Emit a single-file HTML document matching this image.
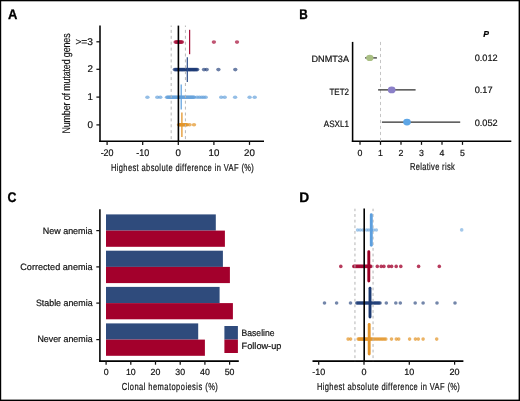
<!DOCTYPE html>
<html><head><meta charset="utf-8"><style>
html,body{margin:0;padding:0;background:#fff;}
svg{display:block;}
text{font-family:"Liberation Sans", sans-serif;text-rendering:geometricPrecision;}
</style></head><body>
<svg style="will-change:transform" width="520" height="401" viewBox="0 0 520 401">
<rect width="520" height="401" fill="#fff"/>
<text x="0" y="0" font-size="14" font-weight="bold" fill="#000" stroke="#000" stroke-width="0.3" transform="translate(8.0,18.6) scale(0.93,1)">A</text>
<line x1="100.00" y1="25.50" x2="100.00" y2="142.05" stroke="#000" stroke-width="1.55" />
<line x1="99.25" y1="141.30" x2="264.00" y2="141.30" stroke="#000" stroke-width="1.55" />
<line x1="107.10" y1="141.30" x2="107.10" y2="144.90" stroke="#111" stroke-width="1.25" />
<text x="107.10" y="156.20" font-size="9.7" text-anchor="middle" fill="#111" stroke="#111" stroke-width="0.2" textLength="12.9" lengthAdjust="spacingAndGlyphs" >-20</text>
<line x1="142.70" y1="141.30" x2="142.70" y2="144.90" stroke="#111" stroke-width="1.25" />
<text x="142.70" y="156.20" font-size="9.7" text-anchor="middle" fill="#111" stroke="#111" stroke-width="0.2" textLength="12.9" lengthAdjust="spacingAndGlyphs" >-10</text>
<line x1="178.30" y1="141.30" x2="178.30" y2="144.90" stroke="#111" stroke-width="1.25" />
<text x="178.30" y="156.20" font-size="9.7" text-anchor="middle" fill="#111" stroke="#111" stroke-width="0.2" >0</text>
<line x1="213.90" y1="141.30" x2="213.90" y2="144.90" stroke="#111" stroke-width="1.25" />
<text x="213.90" y="156.20" font-size="9.7" text-anchor="middle" fill="#111" stroke="#111" stroke-width="0.2" >10</text>
<line x1="249.50" y1="141.30" x2="249.50" y2="144.90" stroke="#111" stroke-width="1.25" />
<text x="249.50" y="156.20" font-size="9.7" text-anchor="middle" fill="#111" stroke="#111" stroke-width="0.2" >20</text>
<line x1="96.40" y1="41.80" x2="100.00" y2="41.80" stroke="#111" stroke-width="1.25" />
<text x="93.00" y="44.70" font-size="9.8" text-anchor="end" fill="#111" stroke="#111" stroke-width="0.2" textLength="17.6" lengthAdjust="spacingAndGlyphs" >&gt;=3</text>
<line x1="96.40" y1="69.30" x2="100.00" y2="69.30" stroke="#111" stroke-width="1.25" />
<text x="93.00" y="72.20" font-size="9.8" text-anchor="end" fill="#111" stroke="#111" stroke-width="0.2" >2</text>
<line x1="96.40" y1="97.10" x2="100.00" y2="97.10" stroke="#111" stroke-width="1.25" />
<text x="93.00" y="100.00" font-size="9.8" text-anchor="end" fill="#111" stroke="#111" stroke-width="0.2" >1</text>
<line x1="96.40" y1="124.90" x2="100.00" y2="124.90" stroke="#111" stroke-width="1.25" />
<text x="93.00" y="127.80" font-size="9.8" text-anchor="end" fill="#111" stroke="#111" stroke-width="0.2" >0</text>
<text x="0" y="0" font-size="10.2" fill="#111" stroke="#111" stroke-width="0.2" textLength="193.24" lengthAdjust="spacing" transform="translate(110.9,170.5) scale(0.74,1)">Highest absolute difference in VAF (%)</text>
<text x="0" y="0" font-size="11.2" fill="#111" stroke="#111" stroke-width="0.15" textLength="125.37" lengthAdjust="spacing" transform="translate(70.2,133.6) rotate(-90) scale(0.8,1)">Number of mutated genes</text>
<g fill="#a8123c" fill-opacity="0.72">
<ellipse cx="175.6" cy="42.10" rx="2.2" ry="1.8"/>
<ellipse cx="176.4" cy="42.10" rx="2.2" ry="1.8"/>
<ellipse cx="177.2" cy="42.10" rx="2.2" ry="1.8"/>
<ellipse cx="178.0" cy="42.10" rx="2.2" ry="1.8"/>
<ellipse cx="178.8" cy="42.10" rx="2.2" ry="1.8"/>
<ellipse cx="179.6" cy="42.10" rx="2.2" ry="1.8"/>
<ellipse cx="180.4" cy="42.10" rx="2.2" ry="1.8"/>
<ellipse cx="181.2" cy="42.10" rx="2.2" ry="1.8"/>
<ellipse cx="182.0" cy="42.10" rx="2.2" ry="1.8"/>
<ellipse cx="213.9" cy="42.10" rx="2.2" ry="1.8"/>
<ellipse cx="237.0" cy="42.10" rx="2.2" ry="1.8"/>
</g>
<g fill="#1d3b76" fill-opacity="0.65">
<ellipse cx="174.8" cy="69.60" rx="2.2" ry="1.8"/>
<ellipse cx="175.6" cy="69.60" rx="2.2" ry="1.8"/>
<ellipse cx="176.4" cy="69.60" rx="2.2" ry="1.8"/>
<ellipse cx="177.2" cy="69.60" rx="2.2" ry="1.8"/>
<ellipse cx="178.0" cy="69.60" rx="2.2" ry="1.8"/>
<ellipse cx="178.8" cy="69.60" rx="2.2" ry="1.8"/>
<ellipse cx="179.6" cy="69.60" rx="2.2" ry="1.8"/>
<ellipse cx="180.4" cy="69.60" rx="2.2" ry="1.8"/>
<ellipse cx="181.2" cy="69.60" rx="2.2" ry="1.8"/>
<ellipse cx="182.0" cy="69.60" rx="2.2" ry="1.8"/>
<ellipse cx="182.8" cy="69.60" rx="2.2" ry="1.8"/>
<ellipse cx="183.6" cy="69.60" rx="2.2" ry="1.8"/>
<ellipse cx="184.4" cy="69.60" rx="2.2" ry="1.8"/>
<ellipse cx="185.2" cy="69.60" rx="2.2" ry="1.8"/>
<ellipse cx="186.0" cy="69.60" rx="2.2" ry="1.8"/>
<ellipse cx="186.8" cy="69.60" rx="2.2" ry="1.8"/>
<ellipse cx="187.6" cy="69.60" rx="2.2" ry="1.8"/>
<ellipse cx="188.4" cy="69.60" rx="2.2" ry="1.8"/>
<ellipse cx="189.2" cy="69.60" rx="2.2" ry="1.8"/>
<ellipse cx="190.0" cy="69.60" rx="2.2" ry="1.8"/>
<ellipse cx="190.8" cy="69.60" rx="2.2" ry="1.8"/>
<ellipse cx="191.6" cy="69.60" rx="2.2" ry="1.8"/>
<ellipse cx="192.4" cy="69.60" rx="2.2" ry="1.8"/>
<ellipse cx="193.2" cy="69.60" rx="2.2" ry="1.8"/>
<ellipse cx="194.0" cy="69.60" rx="2.2" ry="1.8"/>
<ellipse cx="194.8" cy="69.60" rx="2.2" ry="1.8"/>
<ellipse cx="195.6" cy="69.60" rx="2.2" ry="1.8"/>
<ellipse cx="196.4" cy="69.60" rx="2.2" ry="1.8"/>
<ellipse cx="197.2" cy="69.60" rx="2.2" ry="1.8"/>
<ellipse cx="204.0" cy="69.60" rx="2.2" ry="1.8"/>
<ellipse cx="206.7" cy="69.60" rx="2.2" ry="1.8"/>
<ellipse cx="218.4" cy="69.60" rx="2.2" ry="1.8"/>
<ellipse cx="235.3" cy="69.60" rx="2.2" ry="1.8"/>
</g>
<g fill="#66a3dc" fill-opacity="0.7">
<ellipse cx="147.4" cy="97.20" rx="2.2" ry="1.8"/>
<ellipse cx="157.3" cy="97.20" rx="2.2" ry="1.8"/>
<ellipse cx="160.3" cy="97.20" rx="2.2" ry="1.8"/>
<ellipse cx="167.0" cy="97.20" rx="2.2" ry="1.8"/>
<ellipse cx="167.8" cy="97.20" rx="2.2" ry="1.8"/>
<ellipse cx="168.6" cy="97.20" rx="2.2" ry="1.8"/>
<ellipse cx="169.4" cy="97.20" rx="2.2" ry="1.8"/>
<ellipse cx="170.2" cy="97.20" rx="2.2" ry="1.8"/>
<ellipse cx="171.0" cy="97.20" rx="2.2" ry="1.8"/>
<ellipse cx="171.8" cy="97.20" rx="2.2" ry="1.8"/>
<ellipse cx="172.6" cy="97.20" rx="2.2" ry="1.8"/>
<ellipse cx="173.4" cy="97.20" rx="2.2" ry="1.8"/>
<ellipse cx="174.2" cy="97.20" rx="2.2" ry="1.8"/>
<ellipse cx="175.0" cy="97.20" rx="2.2" ry="1.8"/>
<ellipse cx="175.8" cy="97.20" rx="2.2" ry="1.8"/>
<ellipse cx="176.6" cy="97.20" rx="2.2" ry="1.8"/>
<ellipse cx="177.4" cy="97.20" rx="2.2" ry="1.8"/>
<ellipse cx="178.2" cy="97.20" rx="2.2" ry="1.8"/>
<ellipse cx="179.0" cy="97.20" rx="2.2" ry="1.8"/>
<ellipse cx="179.8" cy="97.20" rx="2.2" ry="1.8"/>
<ellipse cx="180.6" cy="97.20" rx="2.2" ry="1.8"/>
<ellipse cx="181.4" cy="97.20" rx="2.2" ry="1.8"/>
<ellipse cx="182.2" cy="97.20" rx="2.2" ry="1.8"/>
<ellipse cx="183.0" cy="97.20" rx="2.2" ry="1.8"/>
<ellipse cx="183.8" cy="97.20" rx="2.2" ry="1.8"/>
<ellipse cx="184.6" cy="97.20" rx="2.2" ry="1.8"/>
<ellipse cx="185.4" cy="97.20" rx="2.2" ry="1.8"/>
<ellipse cx="186.2" cy="97.20" rx="2.2" ry="1.8"/>
<ellipse cx="187.0" cy="97.20" rx="2.2" ry="1.8"/>
<ellipse cx="187.8" cy="97.20" rx="2.2" ry="1.8"/>
<ellipse cx="188.6" cy="97.20" rx="2.2" ry="1.8"/>
<ellipse cx="189.4" cy="97.20" rx="2.2" ry="1.8"/>
<ellipse cx="190.2" cy="97.20" rx="2.2" ry="1.8"/>
<ellipse cx="191.0" cy="97.20" rx="2.2" ry="1.8"/>
<ellipse cx="191.8" cy="97.20" rx="2.2" ry="1.8"/>
<ellipse cx="192.6" cy="97.20" rx="2.2" ry="1.8"/>
<ellipse cx="193.4" cy="97.20" rx="2.2" ry="1.8"/>
<ellipse cx="194.2" cy="97.20" rx="2.2" ry="1.8"/>
<ellipse cx="197.0" cy="97.20" rx="2.2" ry="1.8"/>
<ellipse cx="199.3" cy="97.20" rx="2.2" ry="1.8"/>
<ellipse cx="201.6" cy="97.20" rx="2.2" ry="1.8"/>
<ellipse cx="203.6" cy="97.20" rx="2.2" ry="1.8"/>
<ellipse cx="205.7" cy="97.20" rx="2.2" ry="1.8"/>
<ellipse cx="221.2" cy="97.20" rx="2.2" ry="1.8"/>
<ellipse cx="224.7" cy="97.20" rx="2.2" ry="1.8"/>
<ellipse cx="235.1" cy="97.20" rx="2.2" ry="1.8"/>
<ellipse cx="249.6" cy="97.20" rx="2.2" ry="1.8"/>
<ellipse cx="254.7" cy="97.20" rx="2.2" ry="1.8"/>
</g>
<g fill="#e3952a" fill-opacity="0.72">
<ellipse cx="179.0" cy="124.80" rx="2.2" ry="1.8"/>
<ellipse cx="179.8" cy="124.80" rx="2.2" ry="1.8"/>
<ellipse cx="180.6" cy="124.80" rx="2.2" ry="1.8"/>
<ellipse cx="181.4" cy="124.80" rx="2.2" ry="1.8"/>
<ellipse cx="182.2" cy="124.80" rx="2.2" ry="1.8"/>
<ellipse cx="183.0" cy="124.80" rx="2.2" ry="1.8"/>
<ellipse cx="183.8" cy="124.80" rx="2.2" ry="1.8"/>
<ellipse cx="184.6" cy="124.80" rx="2.2" ry="1.8"/>
<ellipse cx="185.4" cy="124.80" rx="2.2" ry="1.8"/>
<ellipse cx="186.2" cy="124.80" rx="2.2" ry="1.8"/>
<ellipse cx="187.0" cy="124.80" rx="2.2" ry="1.8"/>
<ellipse cx="189.6" cy="124.80" rx="2.2" ry="1.8"/>
<ellipse cx="194.0" cy="124.80" rx="2.2" ry="1.8"/>
</g>
<line x1="171.18" y1="25.50" x2="171.18" y2="141.30" stroke="#b8b8b8" stroke-width="1.0" stroke-dasharray="3 2.9" stroke-dashoffset="1.5"/>
<line x1="185.42" y1="25.50" x2="185.42" y2="141.30" stroke="#b8b8b8" stroke-width="1.0" stroke-dasharray="3 2.9" stroke-dashoffset="1.5"/>
<line x1="178.40" y1="25.60" x2="178.40" y2="141.30" stroke="#000" stroke-width="1.6" />
<line x1="189.60" y1="29.80" x2="189.60" y2="54.20" stroke="#a30f38" stroke-width="1.25" />
<line x1="187.30" y1="57.30" x2="187.30" y2="82.00" stroke="#2a4a86" stroke-width="1.2" />
<line x1="181.20" y1="84.60" x2="181.20" y2="109.40" stroke="#5a9ede" stroke-width="1.2" />
<line x1="181.90" y1="112.60" x2="181.90" y2="137.00" stroke="#e3952a" stroke-width="1.3" />
<text x="0" y="0" font-size="14" font-weight="bold" fill="#000" stroke="#000" stroke-width="0.3" transform="translate(299.2,18.7) scale(0.84,1)">B</text>
<line x1="352.60" y1="41.90" x2="352.60" y2="142.00" stroke="#000" stroke-width="1.55" />
<line x1="351.85" y1="141.25" x2="511.30" y2="141.25" stroke="#000" stroke-width="1.55" />
<line x1="360.00" y1="141.25" x2="360.00" y2="144.85" stroke="#111" stroke-width="1.25" />
<text x="360.00" y="156.10" font-size="8.8" text-anchor="middle" fill="#111" stroke="#111" stroke-width="0.2" >0</text>
<line x1="380.50" y1="141.25" x2="380.50" y2="144.85" stroke="#111" stroke-width="1.25" />
<text x="380.50" y="156.10" font-size="8.8" text-anchor="middle" fill="#111" stroke="#111" stroke-width="0.2" >1</text>
<line x1="401.00" y1="141.25" x2="401.00" y2="144.85" stroke="#111" stroke-width="1.25" />
<text x="401.00" y="156.10" font-size="8.8" text-anchor="middle" fill="#111" stroke="#111" stroke-width="0.2" >2</text>
<line x1="421.50" y1="141.25" x2="421.50" y2="144.85" stroke="#111" stroke-width="1.25" />
<text x="421.50" y="156.10" font-size="8.8" text-anchor="middle" fill="#111" stroke="#111" stroke-width="0.2" >3</text>
<line x1="442.00" y1="141.25" x2="442.00" y2="144.85" stroke="#111" stroke-width="1.25" />
<text x="442.00" y="156.10" font-size="8.8" text-anchor="middle" fill="#111" stroke="#111" stroke-width="0.2" >4</text>
<line x1="462.50" y1="141.25" x2="462.50" y2="144.85" stroke="#111" stroke-width="1.25" />
<text x="462.50" y="156.10" font-size="8.8" text-anchor="middle" fill="#111" stroke="#111" stroke-width="0.2" >5</text>
<text x="0" y="0" font-size="10.2" fill="#111" stroke="#111" stroke-width="0.2" textLength="60.68" lengthAdjust="spacing" transform="translate(409.9,170.4) scale(0.74,1)">Relative risk</text>
<line x1="380.50" y1="41.90" x2="380.50" y2="141.25" stroke="#c2c2c2" stroke-width="0.95" stroke-dasharray="3.2 2.8"/>
<text x="349.00" y="62.30" font-size="9.2" text-anchor="end" fill="#111" stroke="#111" stroke-width="0.2" textLength="37.5" lengthAdjust="spacingAndGlyphs" >DNMT3A</text>
<text x="349.00" y="94.90" font-size="9.2" text-anchor="end" fill="#111" stroke="#111" stroke-width="0.2" textLength="19.6" lengthAdjust="spacingAndGlyphs" >TET2</text>
<text x="349.00" y="126.70" font-size="9.2" text-anchor="end" fill="#111" stroke="#111" stroke-width="0.2" textLength="25.2" lengthAdjust="spacingAndGlyphs" >ASXL1</text>
<line x1="365.10" y1="57.90" x2="376.90" y2="57.90" stroke="#2e2e2e" stroke-width="1.25" />
<line x1="378.10" y1="89.90" x2="415.60" y2="89.90" stroke="#2e2e2e" stroke-width="1.25" />
<line x1="381.90" y1="122.10" x2="460.20" y2="122.10" stroke="#2e2e2e" stroke-width="1.25" />
<ellipse cx="369.8" cy="57.9" rx="3.7" ry="3.1" fill="#a9bf83"/>
<ellipse cx="391.7" cy="89.9" rx="3.85" ry="3.4" fill="#8b80c8"/>
<ellipse cx="407.0" cy="122.1" rx="3.85" ry="3.4" fill="#5ea6e6"/>
<text x="483.30" y="37.20" font-size="8.6" text-anchor="start" fill="#000" stroke="#000" stroke-width="0.2" font-weight="bold" font-style="italic" >P</text>
<text x="474.70" y="60.60" font-size="9.2" text-anchor="start" fill="#111" stroke="#111" stroke-width="0.2" >0.012</text>
<text x="474.70" y="93.00" font-size="9.2" text-anchor="start" fill="#111" stroke="#111" stroke-width="0.2" >0.17</text>
<text x="474.70" y="125.60" font-size="9.2" text-anchor="start" fill="#111" stroke="#111" stroke-width="0.2" >0.052</text>
<text x="0" y="0" font-size="14" font-weight="bold" fill="#000" stroke="#000" stroke-width="0.3" transform="translate(7.6,201.6) scale(0.88,1)">C</text>
<line x1="99.90" y1="209.20" x2="99.90" y2="361.85" stroke="#000" stroke-width="1.55" />
<line x1="99.15" y1="361.10" x2="238.80" y2="361.10" stroke="#000" stroke-width="1.55" />
<line x1="106.10" y1="361.10" x2="106.10" y2="364.70" stroke="#111" stroke-width="1.25" />
<text x="106.10" y="375.10" font-size="8.8" text-anchor="middle" fill="#111" stroke="#111" stroke-width="0.2" >0</text>
<line x1="130.80" y1="361.10" x2="130.80" y2="364.70" stroke="#111" stroke-width="1.25" />
<text x="130.80" y="375.10" font-size="8.8" text-anchor="middle" fill="#111" stroke="#111" stroke-width="0.2" >10</text>
<line x1="155.50" y1="361.10" x2="155.50" y2="364.70" stroke="#111" stroke-width="1.25" />
<text x="155.50" y="375.10" font-size="8.8" text-anchor="middle" fill="#111" stroke="#111" stroke-width="0.2" >20</text>
<line x1="180.20" y1="361.10" x2="180.20" y2="364.70" stroke="#111" stroke-width="1.25" />
<text x="180.20" y="375.10" font-size="8.8" text-anchor="middle" fill="#111" stroke="#111" stroke-width="0.2" >30</text>
<line x1="204.90" y1="361.10" x2="204.90" y2="364.70" stroke="#111" stroke-width="1.25" />
<text x="204.90" y="375.10" font-size="8.8" text-anchor="middle" fill="#111" stroke="#111" stroke-width="0.2" >40</text>
<line x1="229.60" y1="361.10" x2="229.60" y2="364.70" stroke="#111" stroke-width="1.25" />
<text x="229.60" y="375.10" font-size="8.8" text-anchor="middle" fill="#111" stroke="#111" stroke-width="0.2" >50</text>
<text x="0" y="0" font-size="10.2" fill="#111" stroke="#111" stroke-width="0.2" textLength="129.73" lengthAdjust="spacing" transform="translate(121.8,390.1) scale(0.74,1)">Clonal hematopoiesis (%)</text>
<line x1="96.30" y1="230.60" x2="99.90" y2="230.60" stroke="#111" stroke-width="1.25" />
<rect x="106.0" y="214.4" width="109.8" height="16.2" fill="#2f4b7c"/>
<rect x="106.0" y="230.6" width="118.9" height="16.2" fill="#a3002c"/>
<line x1="96.30" y1="266.90" x2="99.90" y2="266.90" stroke="#111" stroke-width="1.25" />
<rect x="106.0" y="250.7" width="116.9" height="16.2" fill="#2f4b7c"/>
<rect x="106.0" y="266.9" width="123.9" height="16.2" fill="#a3002c"/>
<line x1="96.30" y1="303.10" x2="99.90" y2="303.10" stroke="#111" stroke-width="1.25" />
<rect x="106.0" y="286.9" width="113.6" height="16.2" fill="#2f4b7c"/>
<rect x="106.0" y="303.1" width="126.9" height="16.2" fill="#a3002c"/>
<line x1="96.30" y1="339.60" x2="99.90" y2="339.60" stroke="#111" stroke-width="1.25" />
<rect x="106.0" y="323.4" width="92.2" height="16.2" fill="#2f4b7c"/>
<rect x="106.0" y="339.6" width="98.9" height="16.2" fill="#a3002c"/>
<text x="92.60" y="233.50" font-size="9.2" text-anchor="end" fill="#111" stroke="#111" stroke-width="0.2" textLength="49.9" lengthAdjust="spacingAndGlyphs" >New anemia</text>
<text x="92.60" y="270.20" font-size="9.2" text-anchor="end" fill="#111" stroke="#111" stroke-width="0.2" textLength="72.3" lengthAdjust="spacingAndGlyphs" >Corrected anemia</text>
<text x="92.60" y="306.00" font-size="9.2" text-anchor="end" fill="#111" stroke="#111" stroke-width="0.2" textLength="56.7" lengthAdjust="spacingAndGlyphs" >Stable anemia</text>
<text x="92.60" y="342.10" font-size="9.2" text-anchor="end" fill="#111" stroke="#111" stroke-width="0.2" textLength="55.2" lengthAdjust="spacingAndGlyphs" >Never anemia</text>
<rect x="224.4" y="326.0" width="13.5" height="13.6" fill="#2f4b7c"/>
<rect x="224.4" y="339.6" width="13.5" height="13.4" fill="#a3002c"/>
<text x="241.60" y="335.60" font-size="9.2" text-anchor="start" fill="#111" stroke="#111" stroke-width="0.2" textLength="32.9" lengthAdjust="spacingAndGlyphs" >Baseline</text>
<text x="241.60" y="349.30" font-size="9.2" text-anchor="start" fill="#111" stroke="#111" stroke-width="0.2" textLength="39.8" lengthAdjust="spacingAndGlyphs" >Follow-up</text>
<text x="0" y="0" font-size="14" font-weight="bold" fill="#000" stroke="#000" stroke-width="0.3" transform="translate(299.2,201.6) scale(0.98,1)">D</text>
<line x1="312.50" y1="361.10" x2="463.40" y2="361.10" stroke="#000" stroke-width="1.55" />
<line x1="318.70" y1="361.10" x2="318.70" y2="364.70" stroke="#111" stroke-width="1.25" />
<text x="318.70" y="375.10" font-size="9.0" text-anchor="middle" fill="#111" stroke="#111" stroke-width="0.2" >-10</text>
<line x1="364.00" y1="361.10" x2="364.00" y2="364.70" stroke="#111" stroke-width="1.25" />
<text x="364.00" y="375.10" font-size="9.0" text-anchor="middle" fill="#111" stroke="#111" stroke-width="0.2" >0</text>
<line x1="409.30" y1="361.10" x2="409.30" y2="364.70" stroke="#111" stroke-width="1.25" />
<text x="409.30" y="375.10" font-size="9.0" text-anchor="middle" fill="#111" stroke="#111" stroke-width="0.2" >10</text>
<line x1="454.60" y1="361.10" x2="454.60" y2="364.70" stroke="#111" stroke-width="1.25" />
<text x="454.60" y="375.10" font-size="9.0" text-anchor="middle" fill="#111" stroke="#111" stroke-width="0.2" >20</text>
<text x="0" y="0" font-size="10.2" fill="#111" stroke="#111" stroke-width="0.2" textLength="193.24" lengthAdjust="spacing" transform="translate(316.9,390.3) scale(0.74,1)">Highest absolute difference in VAF (%)</text>
<g fill="#66a3dc" fill-opacity="0.6">
<ellipse cx="357.6" cy="229.90" rx="1.85" ry="1.75"/>
<ellipse cx="360.2" cy="229.90" rx="1.85" ry="1.75"/>
<ellipse cx="363.0" cy="229.90" rx="1.85" ry="1.75"/>
<ellipse cx="366.6" cy="229.90" rx="1.85" ry="1.75"/>
<ellipse cx="368.8" cy="229.90" rx="1.85" ry="1.75"/>
<ellipse cx="371.4" cy="229.90" rx="1.85" ry="1.75"/>
<ellipse cx="373.6" cy="229.90" rx="1.85" ry="1.75"/>
<ellipse cx="376.3" cy="229.90" rx="1.85" ry="1.75"/>
</g>
<g fill="#66a3dc" fill-opacity="0.6">
<ellipse cx="461.7" cy="229.90" rx="1.8" ry="1.8"/>
</g>
<g fill="#a50a34" fill-opacity="0.8">
<ellipse cx="340.8" cy="266.40" rx="1.8" ry="1.8"/>
<ellipse cx="353.8" cy="266.40" rx="1.8" ry="1.8"/>
<ellipse cx="354.7" cy="266.40" rx="1.8" ry="1.8"/>
<ellipse cx="355.6" cy="266.40" rx="1.8" ry="1.8"/>
<ellipse cx="356.5" cy="266.40" rx="1.8" ry="1.8"/>
<ellipse cx="357.4" cy="266.40" rx="1.8" ry="1.8"/>
<ellipse cx="358.3" cy="266.40" rx="1.8" ry="1.8"/>
<ellipse cx="359.2" cy="266.40" rx="1.8" ry="1.8"/>
<ellipse cx="360.1" cy="266.40" rx="1.8" ry="1.8"/>
<ellipse cx="361.0" cy="266.40" rx="1.8" ry="1.8"/>
<ellipse cx="361.9" cy="266.40" rx="1.8" ry="1.8"/>
<ellipse cx="362.8" cy="266.40" rx="1.8" ry="1.8"/>
<ellipse cx="363.7" cy="266.40" rx="1.8" ry="1.8"/>
<ellipse cx="364.6" cy="266.40" rx="1.8" ry="1.8"/>
<ellipse cx="365.5" cy="266.40" rx="1.8" ry="1.8"/>
<ellipse cx="366.4" cy="266.40" rx="1.8" ry="1.8"/>
<ellipse cx="367.3" cy="266.40" rx="1.8" ry="1.8"/>
<ellipse cx="368.2" cy="266.40" rx="1.8" ry="1.8"/>
<ellipse cx="369.1" cy="266.40" rx="1.8" ry="1.8"/>
<ellipse cx="370.0" cy="266.40" rx="1.8" ry="1.8"/>
<ellipse cx="370.9" cy="266.40" rx="1.8" ry="1.8"/>
<ellipse cx="377.3" cy="266.40" rx="1.8" ry="1.8"/>
<ellipse cx="381.2" cy="266.40" rx="1.8" ry="1.8"/>
<ellipse cx="383.9" cy="266.40" rx="1.8" ry="1.8"/>
<ellipse cx="388.8" cy="266.40" rx="1.8" ry="1.8"/>
<ellipse cx="391.6" cy="266.40" rx="1.8" ry="1.8"/>
<ellipse cx="396.2" cy="266.40" rx="1.8" ry="1.8"/>
<ellipse cx="400.8" cy="266.40" rx="1.8" ry="1.8"/>
<ellipse cx="418.6" cy="266.40" rx="1.8" ry="1.8"/>
<ellipse cx="439.3" cy="266.40" rx="1.8" ry="1.8"/>
</g>
<g fill="#1d3b76" fill-opacity="0.62">
<ellipse cx="324.5" cy="303.00" rx="1.8" ry="1.8"/>
<ellipse cx="336.6" cy="303.00" rx="1.8" ry="1.8"/>
<ellipse cx="350.5" cy="303.00" rx="1.8" ry="1.8"/>
<ellipse cx="356.7" cy="303.00" rx="1.8" ry="1.8"/>
<ellipse cx="357.6" cy="303.00" rx="1.8" ry="1.8"/>
<ellipse cx="358.5" cy="303.00" rx="1.8" ry="1.8"/>
<ellipse cx="359.4" cy="303.00" rx="1.8" ry="1.8"/>
<ellipse cx="360.3" cy="303.00" rx="1.8" ry="1.8"/>
<ellipse cx="361.2" cy="303.00" rx="1.8" ry="1.8"/>
<ellipse cx="362.1" cy="303.00" rx="1.8" ry="1.8"/>
<ellipse cx="363.0" cy="303.00" rx="1.8" ry="1.8"/>
<ellipse cx="363.9" cy="303.00" rx="1.8" ry="1.8"/>
<ellipse cx="364.8" cy="303.00" rx="1.8" ry="1.8"/>
<ellipse cx="365.7" cy="303.00" rx="1.8" ry="1.8"/>
<ellipse cx="366.6" cy="303.00" rx="1.8" ry="1.8"/>
<ellipse cx="367.5" cy="303.00" rx="1.8" ry="1.8"/>
<ellipse cx="368.4" cy="303.00" rx="1.8" ry="1.8"/>
<ellipse cx="369.3" cy="303.00" rx="1.8" ry="1.8"/>
<ellipse cx="370.2" cy="303.00" rx="1.8" ry="1.8"/>
<ellipse cx="371.1" cy="303.00" rx="1.8" ry="1.8"/>
<ellipse cx="372.0" cy="303.00" rx="1.8" ry="1.8"/>
<ellipse cx="372.9" cy="303.00" rx="1.8" ry="1.8"/>
<ellipse cx="373.8" cy="303.00" rx="1.8" ry="1.8"/>
<ellipse cx="374.7" cy="303.00" rx="1.8" ry="1.8"/>
<ellipse cx="375.6" cy="303.00" rx="1.8" ry="1.8"/>
<ellipse cx="376.5" cy="303.00" rx="1.8" ry="1.8"/>
<ellipse cx="377.4" cy="303.00" rx="1.8" ry="1.8"/>
<ellipse cx="378.3" cy="303.00" rx="1.8" ry="1.8"/>
<ellipse cx="379.2" cy="303.00" rx="1.8" ry="1.8"/>
<ellipse cx="380.1" cy="303.00" rx="1.8" ry="1.8"/>
<ellipse cx="386.3" cy="303.00" rx="1.8" ry="1.8"/>
<ellipse cx="395.8" cy="303.00" rx="1.8" ry="1.8"/>
<ellipse cx="400.3" cy="303.00" rx="1.8" ry="1.8"/>
<ellipse cx="415.2" cy="303.00" rx="1.8" ry="1.8"/>
<ellipse cx="423.1" cy="303.00" rx="1.8" ry="1.8"/>
<ellipse cx="437.0" cy="303.00" rx="1.8" ry="1.8"/>
<ellipse cx="455.0" cy="303.00" rx="1.8" ry="1.8"/>
</g>
<g fill="#e3952a" fill-opacity="0.72">
<ellipse cx="348.1" cy="339.10" rx="1.8" ry="1.8"/>
<ellipse cx="350.6" cy="339.10" rx="1.8" ry="1.8"/>
<ellipse cx="358.2" cy="339.10" rx="1.8" ry="1.8"/>
<ellipse cx="359.1" cy="339.10" rx="1.8" ry="1.8"/>
<ellipse cx="360.0" cy="339.10" rx="1.8" ry="1.8"/>
<ellipse cx="360.9" cy="339.10" rx="1.8" ry="1.8"/>
<ellipse cx="361.8" cy="339.10" rx="1.8" ry="1.8"/>
<ellipse cx="362.7" cy="339.10" rx="1.8" ry="1.8"/>
<ellipse cx="363.6" cy="339.10" rx="1.8" ry="1.8"/>
<ellipse cx="364.5" cy="339.10" rx="1.8" ry="1.8"/>
<ellipse cx="365.4" cy="339.10" rx="1.8" ry="1.8"/>
<ellipse cx="366.3" cy="339.10" rx="1.8" ry="1.8"/>
<ellipse cx="367.2" cy="339.10" rx="1.8" ry="1.8"/>
<ellipse cx="368.1" cy="339.10" rx="1.8" ry="1.8"/>
<ellipse cx="369.0" cy="339.10" rx="1.8" ry="1.8"/>
<ellipse cx="369.9" cy="339.10" rx="1.8" ry="1.8"/>
<ellipse cx="370.8" cy="339.10" rx="1.8" ry="1.8"/>
<ellipse cx="371.7" cy="339.10" rx="1.8" ry="1.8"/>
<ellipse cx="373.0" cy="339.10" rx="1.8" ry="1.8"/>
<ellipse cx="374.6" cy="339.10" rx="1.8" ry="1.8"/>
<ellipse cx="376.2" cy="339.10" rx="1.8" ry="1.8"/>
<ellipse cx="377.8" cy="339.10" rx="1.8" ry="1.8"/>
<ellipse cx="379.4" cy="339.10" rx="1.8" ry="1.8"/>
<ellipse cx="381.0" cy="339.10" rx="1.8" ry="1.8"/>
<ellipse cx="382.6" cy="339.10" rx="1.8" ry="1.8"/>
<ellipse cx="384.2" cy="339.10" rx="1.8" ry="1.8"/>
<ellipse cx="385.8" cy="339.10" rx="1.8" ry="1.8"/>
<ellipse cx="391.5" cy="339.10" rx="1.8" ry="1.8"/>
<ellipse cx="396.3" cy="339.10" rx="1.8" ry="1.8"/>
<ellipse cx="398.7" cy="339.10" rx="1.8" ry="1.8"/>
<ellipse cx="409.6" cy="339.10" rx="1.8" ry="1.8"/>
<ellipse cx="415.4" cy="339.10" rx="1.8" ry="1.8"/>
<ellipse cx="418.3" cy="339.10" rx="1.8" ry="1.8"/>
<ellipse cx="423.1" cy="339.10" rx="1.8" ry="1.8"/>
<ellipse cx="436.7" cy="339.10" rx="1.8" ry="1.8"/>
</g>
<line x1="354.94" y1="208.70" x2="354.94" y2="361.10" stroke="#b4b4b4" stroke-width="1.0" stroke-dasharray="2.8 2.85" stroke-dashoffset="0.3"/>
<line x1="373.06" y1="208.70" x2="373.06" y2="361.10" stroke="#b4b4b4" stroke-width="1.0" stroke-dasharray="2.8 2.85" stroke-dashoffset="0.3"/>
<line x1="364.20" y1="208.40" x2="364.20" y2="361.10" stroke="#000" stroke-width="1.6" />
<line x1="371.30" y1="214.80" x2="371.30" y2="245.20" stroke="#5d9fde" stroke-width="2.9" stroke-linecap="round"/>
<line x1="368.80" y1="251.80" x2="368.80" y2="281.00" stroke="#9c0026" stroke-width="2.9" stroke-linecap="round"/>
<line x1="370.00" y1="288.30" x2="370.00" y2="317.00" stroke="#1a3870" stroke-width="2.9" stroke-linecap="round"/>
<line x1="369.20" y1="324.50" x2="369.20" y2="354.00" stroke="#e3952a" stroke-width="2.9" stroke-linecap="round"/>
<rect x="0" y="0" width="520" height="1.3" fill="#000"/>
<rect x="0" y="0" width="1.2" height="401" fill="#000"/>
<rect x="518.6" y="0" width="1.4" height="401" fill="#000"/>
<rect x="0" y="399.6" width="520" height="1.4" fill="#000"/>
</svg>
</body></html>
